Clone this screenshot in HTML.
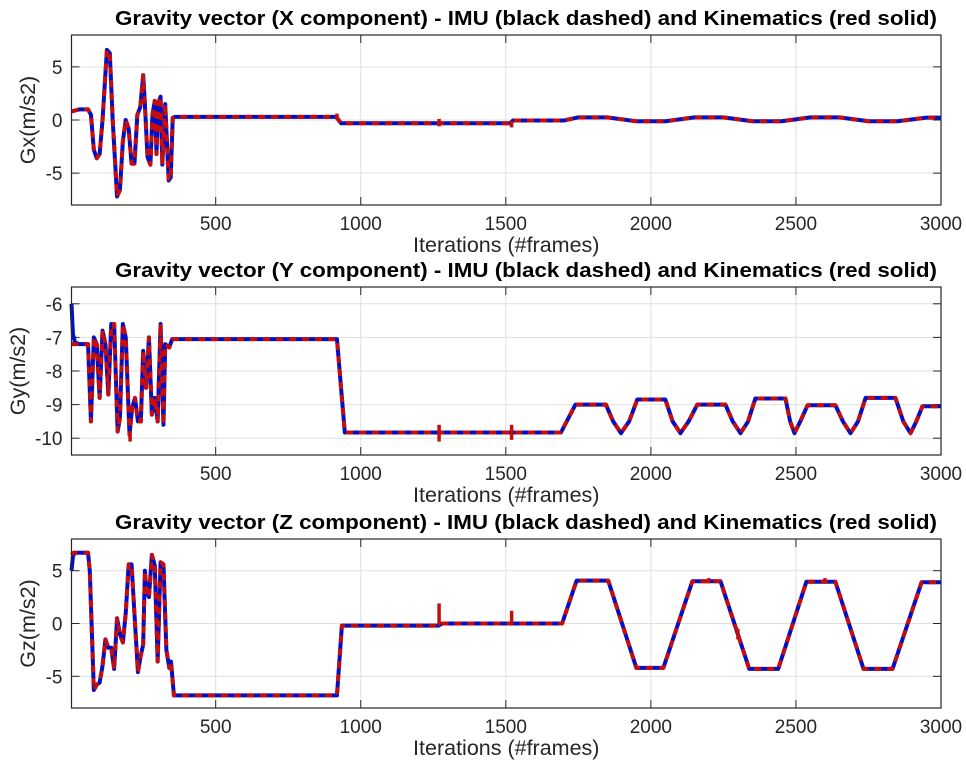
<!DOCTYPE html>
<html><head><meta charset="utf-8"><style>
body{margin:0;background:#fff;width:966px;height:763px;overflow:hidden}
svg text{font-family:"Liberation Sans",sans-serif}
</style></head><body>
<svg id="fig" width="966" height="763" viewBox="0 0 966 763" xmlns="http://www.w3.org/2000/svg"></svg>
<script>
const xTicks=[500,1000,1500,2000,2500,3000];
const gxTicks=[-5,0,5];
const gyTicks=[-10,-9,-8,-7,-6];
const gzTicks=[-5,0,5];
const titles=["Gravity vector (X component) - IMU (black dashed) and Kinematics (red solid)","Gravity vector (Y component) - IMU (black dashed) and Kinematics (red solid)","Gravity vector (Z component) - IMU (black dashed) and Kinematics (red solid)"];
const ylabels=["Gx(m/s2)","Gy(m/s2)","Gz(m/s2)"];
// [frame, value]
const gxKin=[[3,0.8],[30,1.0],[60,1.0],[70,0.5],[80,-2.8],[90,-3.6],[100,-3.2],[110,0],[125,6.6],[135,6.3],[145,0],[160,-7.2],[170,-6.6],[180,-2],[190,0],[200,-0.8],[210,-4.1],[220,-4.1],[230,0.5],[240,1.2],[250,4.2],[255,2],[265,-3.5],[275,-4.2],[282,0.5],[290,1.8],[296,-3.2],[302,1.6],[310,2.2],[316,-4.2],[326,1.5],[338,-5.7],[345,-5.4],[352,0.2],[360,0.3],[915,0.3],[932,-0.3],[1515,-0.3],[1525,-0.05],[1700,-0.05],[1750,0.25],[1850,0.25],[1950,-0.12],[2050,-0.12],[2150,0.25],[2250,0.25],[2350,-0.12],[2450,-0.12],[2550,0.25],[2650,0.25],[2750,-0.12],[2850,-0.12],[2950,0.22],[3000,0.22]];
const gxImuStart=[[3,0.8]];
const gyKin=[[3,-7.2],[60,-7.2],[70,-9.5],[80,-7],[90,-7.2],[100,-8.8],[110,-6.8],[120,-7.2],[130,-8.7],[140,-6.6],[150,-6.6],[162,-9.8],[170,-9.4],[180,-6.6],[190,-7],[203,-9.9],[212,-9.1],[222,-8.8],[232,-9.5],[242,-9.5],[250,-7.4],[260,-8.5],[270,-7],[280,-9.3],[290,-8.8],[300,-9.5],[310,-6.6],[320,-9.6],[326,-7.2],[340,-7.3],[350,-7.05],[918,-7.05],[945,-9.83],[1690,-9.83],[1740,-9.0],[1845,-9.0],[1870,-9.5],[1897,-9.85],[1925,-9.5],[1953,-8.85],[2050,-8.85],[2075,-9.5],[2102,-9.85],[2130,-9.5],[2160,-9.0],[2257,-9.0],[2282,-9.5],[2309,-9.85],[2335,-9.5],[2360,-8.82],[2464,-8.82],[2480,-9.5],[2495,-9.85],[2515,-9.5],[2540,-9.02],[2636,-9.02],[2662,-9.5],[2688,-9.85],[2714,-9.5],[2740,-8.8],[2843,-8.8],[2870,-9.5],[2895,-9.85],[2915,-9.5],[2936,-9.05],[3000,-9.05]];
const gzKin=[[3,6.5],[10,6.7],[60,6.7],[66,5],[80,-6.3],[90,-5.8],[100,-5.6],[110,-4],[120,-1.5],[130,-2.3],[140,-2.3],[150,-4.3],[160,0.5],[170,-1],[180,-1.8],[190,1],[200,5.6],[210,5.6],[222,0],[232,-4.6],[242,-3],[250,-2],[256,5],[262,3],[270,2.5],[280,6.5],[290,5.5],[300,-3.6],[310,5.8],[320,5.6],[330,-2.5],[340,-4.2],[346,-3.6],[356,-6.8],[918,-6.8],[935,-0.2],[1268,-0.2],[1280,0],[1694,0],[1744,4.06],[1853,4.06],[1950,-4.2],[2043,-4.2],[2143,4.0],[2240,4.0],[2339,-4.3],[2439,-4.3],[2536,3.95],[2636,3.95],[2733,-4.3],[2833,-4.3],[2933,3.9],[3000,3.9]];
const gyImuStart=[[3,-6],[8,-6.9],[15,-7.15],[30,-7.2]];
const gzImuStart=[[3,5],[8,6.4],[15,6.7]];
// red spikes [frame, v0, v1]
const gxSpikes=[[918,0.1,0.6],[1270,-0.6,0.1],[1520,-0.7,-0.1],[250,3.5,4.4]];
const gySpikes=[[1270,-9.6,-10.1],[1520,-9.6,-10.05],[205,-9.8,-10.1]];
const gzSpikes=[[1270,-0.2,1.9],[1520,-0.2,1.2],[2300,-0.5,-1.5],[2200,3.8,4.3],[2600,3.8,4.3]];

const panels=[
 {top:35,bot:205,ymin:-8,ymax:8,ticks:gxTicks,kin:gxKin,imuStart:gxImuStart,spikes:gxSpikes,titleY:25,name:"gx"},
 {top:287,bot:455,ymin:-10.5,ymax:-5.5,ticks:gyTicks,kin:gyKin,imuStart:gyImuStart,spikes:gySpikes,titleY:277,name:"gy"},
 {top:539,bot:708,ymin:-8,ymax:8,ticks:gzTicks,kin:gzKin,imuStart:gzImuStart,spikes:gzSpikes,titleY:529,name:"gz"}];
const L=71.5,R=941,XMIN=3,XMAX=3000;
const NS="http://www.w3.org/2000/svg";
const svg=document.getElementById('fig');
function mk(t,a,p){const e=document.createElementNS(NS,t);for(const k in a)e.setAttribute(k,a[k]);(p||svg).appendChild(e);return e;}
const sx=v=>L+(v-XMIN)/(XMAX-XMIN)*(R-L);
panels.forEach((p,i)=>{
 const sy=v=>p.bot-(v-p.ymin)/(p.ymax-p.ymin)*(p.bot-p.top);
 const g=mk('g',{});
 
 
 mk('rect',{x:L,y:p.top,width:R-L,height:p.bot-p.top,fill:'#fff'},g);
 xTicks.forEach(t=>{const x=sx(t);const gl=mk('line',{x1:x,x2:x,y1:p.top,y2:p.bot,stroke:'#dfdfdf','stroke-width':1},g);
  
  mk('line',{x1:x,x2:x,y1:p.bot,y2:p.bot-8,stroke:'#262626'},g);mk('line',{x1:x,x2:x,y1:p.top,y2:p.top+8,stroke:'#262626'},g);
  const tx=mk('text',{x:x,y:p.bot+25,'font-size':19,'text-anchor':'middle',fill:'#262626'},g);tx.textContent=t;
  });
 p.ticks.forEach(t=>{const y=sy(t);mk('line',{x1:L,x2:R,y1:y,y2:y,stroke:'#dfdfdf'},g);
  mk('line',{x1:L,x2:L+8,y1:y,y2:y,stroke:'#262626'},g);mk('line',{x1:R,x2:R-8,y1:y,y2:y,stroke:'#262626'},g);
  const tx=mk('text',{x:L-9,y:y+7,'font-size':19,'text-anchor':'end',fill:'#262626'},g);tx.textContent=t;
  });
 const pts=p.imuStart.concat(p.kin.filter(d=>d[0]>p.imuStart[p.imuStart.length-1][0])).map(d=>sx(d[0])+','+sy(d[1])).join(' ');
 const blue=mk('polyline',{points:pts,fill:'none',stroke:'#0010c8','stroke-width':4,'stroke-linejoin':'round'},g);
 
 const rp=p.kin.map(d=>sx(d[0])+','+sy(d[1])).join(' ');
 const red=mk('polyline',{points:rp,fill:'none',stroke:'#c40e0e','stroke-width':4,'stroke-dasharray':'7 6','stroke-linejoin':'round'},g);
 
 p.spikes.forEach(s=>{const sp=mk('line',{x1:sx(s[0]),x2:sx(s[0]),y1:sy(s[1]),y2:sy(s[2]),stroke:'#c40e0e','stroke-width':3.5},g);
  });
 const fr=mk('rect',{x:L,y:p.top,width:R-L,height:p.bot-p.top,fill:'none',stroke:'#262626','stroke-width':1.2},g);
 
 const ti=mk('text',{x:115,y:p.titleY,'font-size':20,'font-weight':'bold','text-anchor':'start',fill:'#000',textLength:822,lengthAdjust:'spacingAndGlyphs'},g);ti.textContent=titles[i];
 
 const xl=mk('text',{x:(L+R)/2,y:p.bot+47,'font-size':21.5,'text-anchor':'middle',fill:'#262626'},g);xl.textContent='Iterations (#frames)';
 
 const yc=(p.top+p.bot)/2;
 const yl=mk('text',{x:0,y:0,'font-size':21.5,'text-anchor':'middle',fill:'#262626',transform:`translate(${i==1?25:35},${yc}) rotate(-90)`},g);yl.textContent=ylabels[i];
 
});
</script>
</body></html>
